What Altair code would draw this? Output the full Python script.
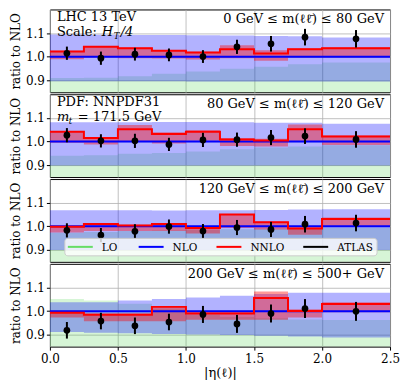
import altair as alt
import pandas as pd

edges = [0.0, 0.25, 0.5, 0.75, 1.0, 1.25, 1.5, 1.75, 2.0, 2.5]
centers = [0.125, 0.375, 0.625, 0.875, 1.125, 1.375, 1.625, 1.875, 2.25]
x_ticks = [0.0, 0.5, 1.0, 1.5, 2.0, 2.5]
y_ticks = [0.9, 1.0, 1.1]
series_names = ["LO", "NLO", "NNLO", "ATLAS"]
legend_colors = ["#66dd66", "#0000ff", "#ff0000", "#000000"]
lo_floor = [0.80] * 9
nlo_central = [1.0] * 9

# panel 1: 0-80 GeV
p1_lo_hi = [0.910, 0.911, 0.918, 0.928, 0.938, 0.949, 0.958, 0.968, 0.976]
p1_nlo_lo = [0.897, 0.897, 0.897, 0.897, 0.896, 0.896, 0.896, 0.896, 0.896]
p1_nlo_hi = [1.094, 1.093, 1.092, 1.092, 1.091, 1.090, 1.088, 1.087, 1.082]
p1_nnlo = [1.022, 1.042, 1.036, 1.025, 1.018, 1.032, 1.014, 1.032, 1.036]
p1_nnlo_lo = [0.990, 0.997, 0.994, 0.993, 0.988, 0.994, 0.983, 0.997, 0.997]
p1_nnlo_hi = [1.025, 1.046, 1.039, 1.028, 1.021, 1.049, 1.028, 1.036, 1.040]
p1_data = [1.015, 0.994, 1.011, 1.008, 1.001, 1.042, 1.055, 1.083, 1.076]
p1_err = [0.028, 0.028, 0.027, 0.027, 0.027, 0.030, 0.033, 0.035, 0.037]

# panel 2: 80-120 GeV
p2_lo_hi = [0.940, 0.942, 0.948, 0.952, 0.958, 0.968, 0.975, 0.979, 0.984]
p2_nlo_lo = [0.899, 0.899, 0.899, 0.899, 0.899, 0.899, 0.899, 0.899, 0.899]
p2_nlo_hi = [1.082, 1.082, 1.082, 1.083, 1.083, 1.082, 1.079, 1.079, 1.075]
p2_nnlo = [1.042, 1.015, 1.052, 1.032, 1.042, 1.009, 1.004, 1.052, 1.021]
p2_nnlo_lo = [0.995, 0.988, 0.998, 0.992, 1.003, 0.981, 0.979, 0.999, 0.985]
p2_nnlo_hi = [1.044, 1.019, 1.070, 1.039, 1.048, 1.015, 1.012, 1.072, 1.026]
p2_data = [1.027, 1.003, 1.003, 0.988, 1.007, 1.008, 1.017, 1.023, 1.009]
p2_err = [0.030, 0.028, 0.030, 0.028, 0.030, 0.030, 0.032, 0.033, 0.035]

# panel 3: 120-200 GeV
p3_lo_hi = [0.973, 0.976, 0.980, 0.982, 0.985, 0.988, 0.990, 0.992, 0.995]
p3_nlo_lo = [0.900, 0.900, 0.900, 0.900, 0.900, 0.900, 0.900, 0.900, 0.900]
p3_nlo_hi = [1.068, 1.068, 1.068, 1.067, 1.068, 1.068, 1.069, 1.071, 1.072]
p3_nnlo = [0.998, 1.010, 1.004, 1.010, 0.993, 1.050, 1.017, 0.991, 1.031]
p3_nnlo_lo = [0.974, 0.980, 0.980, 0.980, 0.970, 0.993, 0.987, 0.965, 1.000]
p3_nnlo_hi = [1.000, 1.013, 1.007, 1.013, 1.000, 1.052, 1.020, 0.996, 1.037]
p3_data = [0.983, 0.963, 0.979, 0.999, 0.980, 0.995, 0.987, 1.009, 1.014]
p3_err = [0.030, 0.030, 0.030, 0.030, 0.030, 0.032, 0.032, 0.035, 0.035]

# panel 4: 200-500+ GeV
p4_lo_hi = [1.051, 1.045, 1.031, 1.010, 0.985, 0.975, 0.970, 0.965, 0.962]
p4_nlo_lo = [0.912, 0.909, 0.907, 0.903, 0.901, 0.899, 0.896, 0.893, 0.889]
p4_nlo_hi = [1.038, 1.038, 1.045, 1.051, 1.058, 1.065, 1.072, 1.078, 1.078]
p4_nnlo = [0.993, 0.985, 0.985, 1.018, 0.990, 0.990, 1.055, 1.001, 1.030]
p4_nnlo_lo = [0.973, 0.957, 0.957, 0.957, 0.964, 0.964, 0.964, 0.973, 0.995]
p4_nnlo_hi = [1.000, 0.990, 0.990, 1.020, 0.997, 0.997, 1.083, 1.008, 1.038]
p4_data = [0.919, 0.958, 0.938, 0.954, 0.986, 0.946, 0.990, 1.011, 0.999]
p4_err = [0.035, 0.035, 0.035, 0.035, 0.036, 0.038, 0.038, 0.040, 0.040]

mass_labels = [
    "0 GeV \u2264 m(\u2113\u2113\u0304) \u2264 80 GeV",
    "80 GeV \u2264 m(\u2113\u2113\u0304) \u2264 120 GeV",
    "120 GeV \u2264 m(\u2113\u2113\u0304) \u2264 200 GeV",
    "200 GeV \u2264 m(\u2113\u2113\u0304) \u2264 500+ GeV",
]

FONT = "DejaVu Serif"
W = 341
H = 83
TS = 13
xs = alt.Scale(domain=[0, 2.5], nice=False)
ys = alt.Scale(domain=[0.85, 1.2], nice=False, zero=False)

C_LO = "#32cd32"
C_NLO = "#0000ff"
C_NNLO = "#ff0000"
ONE = pd.DataFrame({"k": [0]})


def ext(v):
    return list(v) + [v[-1]]


def text_layer(s, x, y, size=TS, italic=False, align="left"):
    return alt.Chart(pd.DataFrame({"t": [s]})).mark_text(
        align=align, baseline="alphabetic", font=FONT, fontSize=size,
        fontStyle="italic" if italic else "normal", color="black"
    ).encode(x=alt.value(x), y=alt.value(y), text="t:N")


def legend_layers():
    out = [alt.Chart(ONE).mark_rect(fill="white", fillOpacity=0.8,
                                    stroke="#cccccc", strokeWidth=1,
                                    cornerRadius=3).encode(
        x=alt.value(15), x2=alt.value(328), y=alt.value(59.5), y2=alt.value(77))]
    sym_x = [18, 89, 167, 254]
    for name, colr, sx in zip(series_names, legend_colors, sym_x):
        out.append(alt.Chart(ONE).mark_rule(color=colr, strokeWidth=2).encode(
            x=alt.value(sx), x2=alt.value(sx + 25), y=alt.value(68)))
        out.append(text_layer(name, sx + 34, 72, size=10.5))
    return out


def panel(lo_hi, nlo_lo, nlo_hi, nnlo, nnlo_lo, nnlo_hi, data, err, label,
          extra_texts, bottom=False):
    sdf = pd.DataFrame({
        "x": edges,
        "lo_lo": ext(lo_floor), "lo_hi": ext(lo_hi),
        "nlo_lo": ext(nlo_lo), "nlo_hi": ext(nlo_hi),
        "nnlo_lo": ext(nnlo_lo), "nnlo_hi": ext(nnlo_hi),
        "nlo": ext(nlo_central), "nnlo": ext(nnlo),
    })
    ddf = pd.DataFrame({
        "x": centers, "y": data,
        "lo": [d - e for d, e in zip(data, err)],
        "hi": [d + e for d, e in zip(data, err)],
    })
    if bottom:
        xaxis = alt.Axis(values=x_ticks, format=".1f", title="|\u03b7(\u2113)|",
                         labelFont=FONT, labelFontSize=12, titleFont=FONT,
                         titleFontSize=13, titleFontWeight="normal", tickSize=3.5,
                         labelPadding=3, titlePadding=2, domain=False,
                         labelFlush=False,
                         labelColor="black", titleColor="black", tickColor="black")
    else:
        xaxis = alt.Axis(values=x_ticks, labels=False, ticks=False, title=None,
                         domain=False)
    yaxis = alt.Axis(values=y_ticks, format=".1f", title="ratio to NLO",
                     labelFont=FONT, labelFontSize=12, titleFont=FONT,
                     titleFontSize=12, titleFontWeight="normal", tickSize=3.5,
                     labelPadding=2, titlePadding=3, domain=False,
                     labelColor="black", titleColor="black", tickColor="black")
    X = alt.X("x:Q", scale=xs, axis=xaxis)
    Xp = alt.X("x:Q", scale=xs)
    base = alt.Chart(sdf)
    lo_area = base.mark_area(interpolate="step-after", color=C_LO, opacity=0.2,
                             clip=True).encode(
        x=X, y=alt.Y("lo_lo:Q", scale=ys, axis=yaxis), y2="lo_hi:Q")
    nlo_area = base.mark_area(interpolate="step-after", color=C_NLO, opacity=0.3,
                              clip=True).encode(
        x=Xp, y=alt.Y("nlo_lo:Q", scale=ys), y2="nlo_hi:Q")
    nnlo_area = base.mark_area(interpolate="step-after", color=C_NNLO, opacity=0.4,
                               clip=True).encode(
        x=Xp, y=alt.Y("nnlo_lo:Q", scale=ys), y2="nnlo_hi:Q")
    nlo_line = base.mark_line(interpolate="step-after", strokeWidth=2,
                              color=C_NLO, clip=True).encode(
        x=Xp, y=alt.Y("nlo:Q", scale=ys))
    nnlo_line = base.mark_line(interpolate="step-after", strokeWidth=2,
                               color=C_NNLO, clip=True).encode(
        x=Xp, y=alt.Y("nnlo:Q", scale=ys))
    bars = alt.Chart(ddf).mark_rule(color="black", strokeWidth=2).encode(
        x=Xp, y=alt.Y("lo:Q", scale=ys), y2="hi:Q")
    pts = alt.Chart(ddf).mark_circle(color="black", opacity=1, size=45).encode(
        x=Xp, y=alt.Y("y:Q", scale=ys))
    layers = [lo_area, nlo_area, nnlo_area, nlo_line, nnlo_line, bars, pts,
              text_layer(label, W - 6, 14, align="right")] + extra_texts
    return alt.layer(*layers).properties(width=W, height=H)


t1 = [text_layer("LHC 13 TeV", 7, 12),
      text_layer("Scale:", 7, 27),
      text_layer("H", 52, 27, italic=True),
      text_layer("T", 64, 30, size=8.5, italic=True),
      text_layer("/4", 71, 27, italic=True)]
t2 = [text_layer("PDF: NNPDF31", 7, 12),
      text_layer("m", 7, 27, italic=True),
      text_layer("t", 19, 30, size=8.5, italic=True),
      text_layer("= 171.5 GeV", 28, 27)]

c1 = panel(p1_lo_hi, p1_nlo_lo, p1_nlo_hi, p1_nnlo, p1_nnlo_lo, p1_nnlo_hi,
           p1_data, p1_err, mass_labels[0], t1)
c2 = panel(p2_lo_hi, p2_nlo_lo, p2_nlo_hi, p2_nnlo, p2_nnlo_lo, p2_nnlo_hi,
           p2_data, p2_err, mass_labels[1], t2)
c3 = panel(p3_lo_hi, p3_nlo_lo, p3_nlo_hi, p3_nnlo, p3_nnlo_lo, p3_nnlo_hi,
           p3_data, p3_err, mass_labels[2], legend_layers())
c4 = panel(p4_lo_hi, p4_nlo_lo, p4_nlo_hi, p4_nnlo, p4_nnlo_lo, p4_nnlo_hi,
           p4_data, p4_err, mass_labels[3], [], bottom=True)

chart = alt.vconcat(c1, c2, c3, c4, spacing=0).properties(
    padding={"left": 0, "top": 0, "right": 0, "bottom": 0}
).configure_view(stroke="black", strokeWidth=1).configure_axis(
    gridColor="#b0b0b0", gridWidth=0.8, gridOpacity=1)

chart.save("out.html", embed_options={"renderer": "svg", "actions": False})
